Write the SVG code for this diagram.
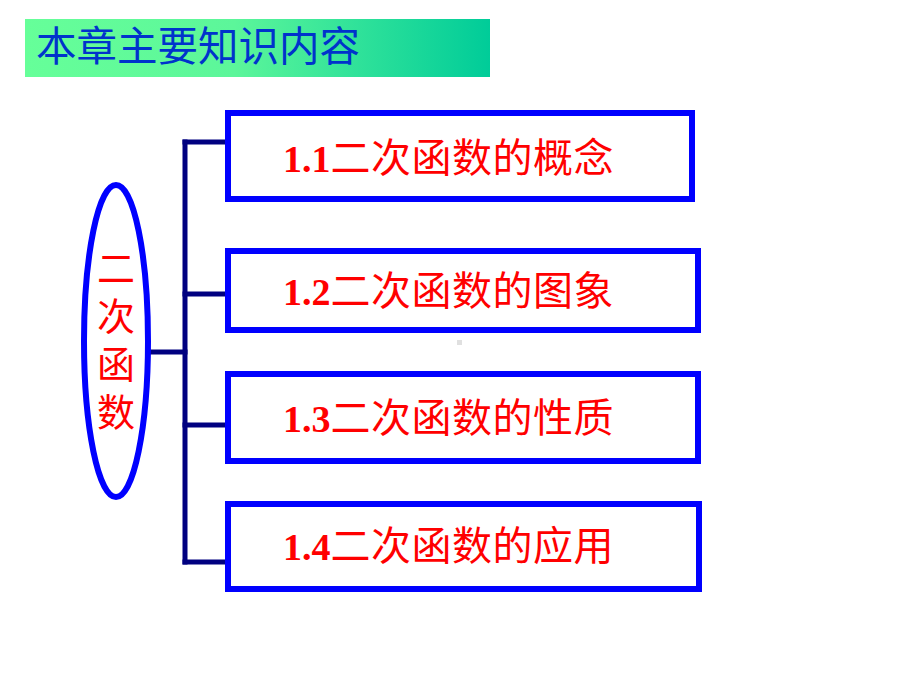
<svg xmlns="http://www.w3.org/2000/svg" width="920" height="690" viewBox="0 0 920 690">
<defs>
<linearGradient id="bannerGrad" x1="0" y1="0" x2="1" y2="0">
<stop offset="0" stop-color="#66ff99"/>
<stop offset="0.45" stop-color="#5cf69a"/>
<stop offset="1" stop-color="#00cc99"/>
</linearGradient>
<style>
.box{fill:#ffffff;stroke:#0000ff;stroke-width:6}
.conn{stroke:#000080;stroke-width:5;fill:none;stroke-linecap:square}
.lbl{font-size:38px;fill:#ff0000}
.num{font-family:"Liberation Serif",serif;font-weight:bold}
.cjk{font-family:"Noto Sans CJK SC",sans-serif;font-size:40px;letter-spacing:0.5px}
</style>
</defs>
<rect width="920" height="690" fill="#ffffff"/>
<g id="title">
<rect x="25" y="19" width="465" height="58" fill="url(#bannerGrad)"/>
<text x="36" y="61" font-family="Noto Sans CJK SC, sans-serif" font-size="40.5" fill="#0033cc">本章主要知识内容</text>
</g>
<g id="connectors">
<line class="conn" x1="185" y1="142" x2="185" y2="562"/>
<line class="conn" x1="151" y1="352" x2="185" y2="352"/>
<line class="conn" x1="185" y1="142" x2="226" y2="142"/>
<line class="conn" x1="185" y1="294" x2="226" y2="294"/>
<line class="conn" x1="185" y1="425" x2="226" y2="425"/>
<line class="conn" x1="185" y1="562" x2="226" y2="562"/>
</g>
<g id="root">
<ellipse cx="116" cy="341" rx="32" ry="156" fill="#ffffff" stroke="#0000ff" stroke-width="6"/>
<text x="116" y="249" writing-mode="vertical-rl" font-family="Noto Sans CJK SC, sans-serif" font-size="38" letter-spacing="10" fill="#ff0000">二次函数</text>
</g>
<g id="n1">
<rect class="box" x="228" y="113" width="464" height="86"/>
<text class="lbl" x="283" y="172"><tspan class="num">1.1</tspan><tspan class="cjk">二次函数的概念</tspan></text>
</g>
<g id="n2">
<rect class="box" x="228" y="251" width="470" height="79"/>
<text class="lbl" x="283" y="305"><tspan class="num">1.2</tspan><tspan class="cjk">二次函数的图象</tspan></text>
</g>
<g id="n3">
<rect class="box" x="228" y="374" width="470" height="87"/>
<text class="lbl" x="283" y="432"><tspan class="num">1.3</tspan><tspan class="cjk">二次函数的性质</tspan></text>
</g>
<g id="n4">
<rect class="box" x="228" y="504" width="471" height="85"/>
<text class="lbl" x="283" y="560"><tspan class="num">1.4</tspan><tspan class="cjk">二次函数的应用</tspan></text>
</g>
<rect x="457" y="340" width="5" height="5" fill="#e0e0e0"/>
</svg>
